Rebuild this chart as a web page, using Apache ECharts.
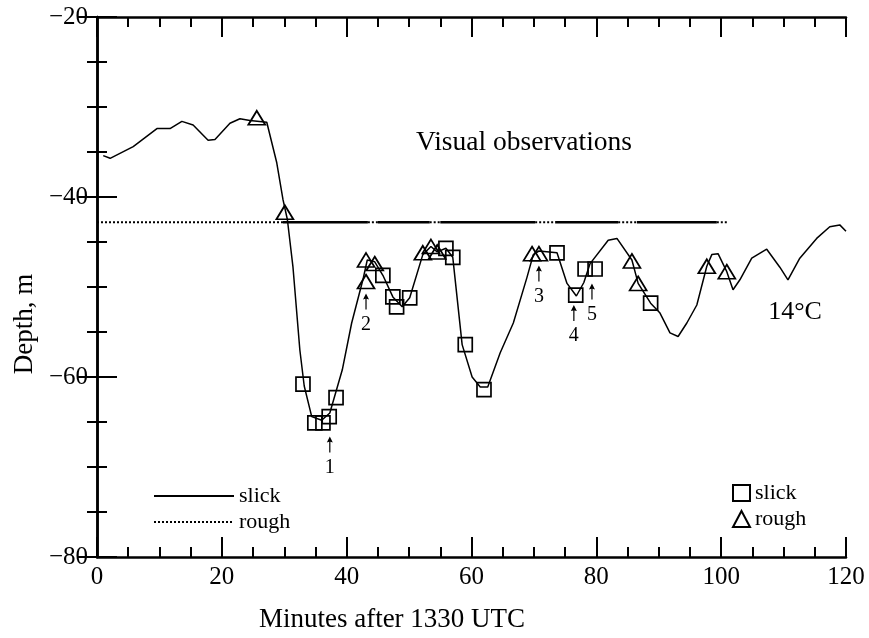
<!DOCTYPE html>
<html><head><meta charset="utf-8">
<script src="https://cdn.jsdelivr.net/npm/echarts@6/dist/echarts.min.js"></script>
<style>html,body{margin:0;padding:0;background:#fff}#c{width:869px;height:638px}</style>
</head><body><div id="c"></div>
<script>
const FONT = 'Liberation Serif';

// 14°C isotherm depth trace
const curveMinutes = [1.0,2.1,5.8,9.6,11.7,13.6,15.4,17.8,18.9,21.3,22.9,24.5,27.2,28.8,29.8,30.5,31.4,32.5,33.2,34.4,36.0,37.3,39.3,40.8,42.6,43.3,44.5,45.8,47.4,48.9,50.1,52.2,53.5,54.5,55.9,57.0,58.5,60.1,61.4,62.6,64.6,66.7,68.9,69.9,70.8,73.7,75.3,76.8,78.0,79.0,81.9,83.3,85.7,86.7,88.7,90.2,91.8,93.1,94.5,96.1,97.7,98.5,99.5,100.9,101.9,103.0,104.9,107.3,109.4,110.7,112.6,115.3,117.4,119.0,120.0];
const curveDepth   = [-35.4,-35.7,-34.4,-32.4,-32.4,-31.6,-32.0,-33.7,-33.6,-31.8,-31.3,-31.5,-31.7,-36.2,-40.3,-42.5,-47.8,-57.0,-61.0,-64.4,-64.8,-64.0,-59.2,-54.0,-49.2,-47.0,-47.2,-48.7,-51.1,-52.2,-51.2,-46.4,-45.5,-46.1,-45.7,-46.7,-56.4,-60.0,-61.1,-61.1,-57.3,-54.0,-48.9,-46.4,-46.0,-46.2,-49.6,-51.0,-49.5,-47.4,-44.8,-44.6,-47.0,-49.6,-51.8,-52.9,-55.1,-55.5,-54.0,-52.0,-47.7,-46.4,-46.3,-48.3,-50.3,-49.2,-46.8,-45.8,-47.8,-49.2,-46.8,-44.6,-43.3,-43.1,-43.8];

// Marker observations
const slickMinutes = [33.0,34.9,36.2,37.2,38.3,45.8,47.4,48.0,50.1,55.9,57.0,59.0,62.0,73.7,76.7,78.2,79.8,88.7];
const slickDepth   = [-60.8,-65.1,-65.1,-64.4,-62.3,-48.7,-51.1,-52.2,-51.2,-45.7,-46.7,-56.4,-61.4,-46.2,-50.9,-48.0,-48.0,-51.8];
const roughMinutes = [25.6,30.1,43.1,43.1,44.5,52.2,53.5,54.5,69.7,70.8,85.7,86.7,97.7,100.9];
const roughDepth   = [-31.2,-41.7,-49.4,-47.0,-47.4,-46.2,-45.5,-46.1,-46.3,-46.3,-47.1,-49.6,-47.7,-48.3];

// Visual observation bar
const obsDepth = -42.8;
const obsRoughSegments = [[0,29.8],[43.4,45.0],[53.3,55.0],[70.2,73.4],[83.5,86.5],[99.3,101.0]];
const obsSlickSegments = [[29.8,43.4],[45.0,53.3],[55.0,70.2],[73.4,83.5],[86.5,99.3]];

// Numbered arrows
const arrowMinutes = [37.3,43.1,70.8,76.4,79.3];
const arrowDepth   = [-67.5,-51.6,-48.5,-52.9,-50.5];
const arrowLabels  = ['1','2','3','4','5'];

const xTickValues = [0,20,40,60,80,100,120];
const yTickValues = [-80,-60,-40,-20];

function segData(segs, y){
  const out = [];
  segs.forEach((s,i)=>{ if(i>0) out.push([s[0],'-']); out.push([s[0],y]); out.push([s[1],y]); });
  return out;
}
const zip = (a,b)=>a.map((v,i)=>[v,b[i]]);

const axisLine = {show:true, lineStyle:{color:'#000', width:2.5}};
const tickStyle = {show:true, inside:true, length:20, lineStyle:{color:'#000', width:2}};
const minorStyle = {show:true, splitNumber:4, length:10, lineStyle:{color:'#000', width:2}};
const labelStyle = {color:'#000', fontFamily:FONT, fontSize:25};

const chart = echarts.init(document.getElementById('c'), null, {renderer:'canvas'});
chart.setOption({
  backgroundColor:'#fff',
  animation:false,
  grid:{left:97, right:23, top:17, bottom:81},
  xAxis:[
    {type:'value', min:0, max:120, interval:20, position:'bottom', axisLine, axisTick:tickStyle, minorTick:minorStyle,
     splitLine:{show:false}, axisLabel:{...labelStyle, margin:8, formatter:v=>xTickValues.includes(v)?String(v):''}},
    {type:'value', min:0, max:120, interval:20, position:'top', axisLine, axisTick:tickStyle, minorTick:minorStyle,
     splitLine:{show:false}, axisLabel:{show:false}}
  ],
  yAxis:[
    {type:'value', min:-80, max:-20, interval:20, position:'left', axisLine, axisTick:tickStyle, minorTick:minorStyle,
     splitLine:{show:false}, axisLabel:{...labelStyle, margin:9, formatter:v=>yTickValues.includes(v)?String(v).replace('-','\u2212'):''}},
    {type:'value', min:-80, max:-20, interval:20, position:'right', axisLine, axisTick:tickStyle, minorTick:minorStyle,
     splitLine:{show:false}, axisLabel:{show:false}}
  ],
  legend:[
    {left:148, top:480, orient:'vertical', itemWidth:80, itemHeight:14, itemGap:4,
     data:['slick obs','rough obs'], formatter:n=>n.split(' ')[0],
     textStyle:{color:'#000', fontFamily:FONT, fontSize:22, lineHeight:22}},
    {left:727, top:477, orient:'vertical', itemWidth:17, itemHeight:16, itemGap:4,
     data:['slick','rough'],
     textStyle:{color:'#000', fontFamily:FONT, fontSize:22, lineHeight:22}}
  ],
  graphic:[
    {type:'text', style:{text:'Visual observations', x:524, y:143, align:'center', verticalAlign:'middle', font:'27.5px "Liberation Serif"', fill:'#000'}},
    {type:'text', style:{text:'14\u00B0C', x:795, y:312, align:'center', verticalAlign:'middle', font:'26px "Liberation Serif"', fill:'#000'}},
    {type:'text', style:{text:'Minutes after 1330 UTC', x:392, y:620, align:'center', verticalAlign:'middle', font:'27px "Liberation Serif"', fill:'#000'}},
    {type:'text', rotation:Math.PI/2, x:25, y:324, style:{text:'Depth, m', x:0, y:0, align:'center', verticalAlign:'middle', font:'27px "Liberation Serif"', fill:'#000'}}
  ],
  series:[
    {name:'curve', type:'line', data:zip(curveMinutes,curveDepth), showSymbol:false, symbol:'none',
     lineStyle:{color:'#000', width:1.5}, z:3},
    {name:'slick obs', type:'line', data:segData(obsSlickSegments,obsDepth), showSymbol:false, symbol:'none', connectNulls:false,
     lineStyle:{color:'#000', width:2.5}, itemStyle:{color:'rgba(0,0,0,0)', borderWidth:0}, z:2},
    {name:'rough obs', type:'line', data:segData(obsRoughSegments,obsDepth), showSymbol:false, symbol:'none', connectNulls:false,
     lineStyle:{color:'#000', width:2, type:[2,2]}, itemStyle:{color:'rgba(0,0,0,0)', borderWidth:0}, z:2},
    {name:'slick', type:'scatter', data:zip(slickMinutes,slickDepth), symbol:'rect', symbolSize:[14,14],
     itemStyle:{color:'rgba(0,0,0,0)', borderColor:'#000', borderWidth:1.7, opacity:1}, z:4},
    {name:'rough', type:'scatter', data:zip(roughMinutes,roughDepth), symbol:'triangle', symbolSize:[17,14],
     itemStyle:{color:'rgba(0,0,0,0)', borderColor:'#000', borderWidth:1.7, opacity:1}, z:4},
    {name:'arrows', type:'scatter', data:zip(arrowMinutes,arrowDepth),
     symbol:'path://M5,0 L10,9 L6,8 L6,24 L4,24 L4,8 L0,9 Z', symbolSize:[6,16],
     itemStyle:{color:'#000', opacity:1}, z:5,
     label:{show:true, position:'bottom', distance:5, color:'#000', fontFamily:FONT, fontSize:20,
            formatter:p=>arrowLabels[p.dataIndex]}}
  ]
});
</script></body></html>
